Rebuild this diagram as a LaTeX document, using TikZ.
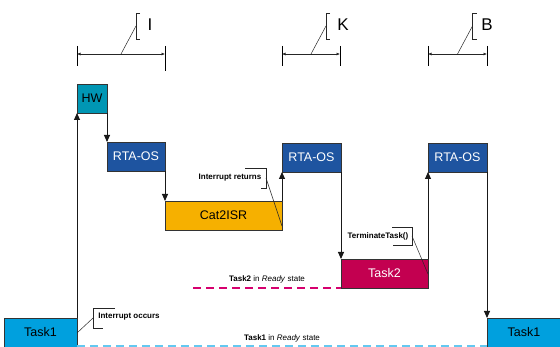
\documentclass[tikz,border=0pt]{standalone}
\usepackage{fontspec}
\setmainfont{Liberation Sans}
\usetikzlibrary{arrows.meta}
\definecolor{taskone}{RGB}{0,160,222}
\definecolor{hwcol}{RGB}{0,150,180}
\definecolor{rtacol}{RGB}{30,84,160}
\definecolor{isrcol}{RGB}{246,176,0}
\definecolor{tasktwo}{RGB}{195,0,80}
\definecolor{cyandash}{RGB}{100,200,240}
\definecolor{magdash}{RGB}{214,0,110}
\begin{document}
\begin{tikzpicture}[x=1pt,y=-1pt,
  box/.style={draw=black!80, line width=0.8pt, outer sep=0pt, inner sep=0pt,
    anchor=north west, minimum height=29pt, font=\fontsize{12.5}{14}\selectfont},
  arr/.style={-{Triangle[length=7pt,width=6pt]}, line width=0.9pt, draw=black!90},
  dimline/.style={{Latex[length=3.5pt,width=3pt]}-{Latex[length=3.5pt,width=3pt]}, line width=0.6pt, draw=black!85},
  tick/.style={line width=1pt, draw=black},
  thin line/.style={line width=0.5pt, draw=black!85},
  biglabel/.style={font=\fontsize{17}{20}\selectfont, inner sep=0pt},
  ctext/.style={font=\bfseries\fontsize{8}{9.5}\selectfont, inner sep=0pt},
  stext/.style={font=\fontsize{8}{9.5}\selectfont, inner sep=0pt},
  dashA/.style={line width=1.3pt, dash pattern=on 8pt off 5pt}
]
\useasboundingbox (0,0) rectangle (560,347);
% boxes
\node[box, fill=taskone, minimum width=73pt] (t1l) at (4,318) {Task1};
\node[box, fill=hwcol, minimum width=30pt] (hw) at (77,84) {HW};
\node[box, fill=rtacol, text=white, minimum width=58pt] (rta1) at (107,142) {RTA-OS};
\node[box, fill=isrcol, minimum width=117pt] (isr) at (165,201) {Cat2ISR};
\node[box, fill=rtacol, text=white, minimum width=59pt] (rta2) at (282,143) {RTA-OS};
\node[box, fill=tasktwo, text=white, minimum width=87pt] (t2) at (341,259) {Task2};
\node[box, fill=rtacol, text=white, minimum width=59pt] (rta3) at (428,143) {RTA-OS};
\node[box, fill=taskone, minimum width=80pt] (t1r) at (487,318) {\hspace*{-6pt}Task1};
% dashed ready lines
\coordinate (m0) at (193,288);
\draw[dashA, magdash] (m0) -- (t2.south west);
\coordinate (c0) at (77,346);
\coordinate (c1) at (487,346);
\draw[dashA, cyandash] (c0) -- (c1);
\node[stext] (r2) at (267,279) {\textbf{Task2} in \textit{Ready} state};
\node[stext] (r1) at (282,338) {\textbf{Task1} in \textit{Ready} state};
% flow connectors
\draw[arr] (t1l.north east) -- (hw.south west);
\draw[arr] (hw.south east) -- (rta1.north west);
\draw[arr] (rta1.south east) -- (isr.north west);
\draw[arr] (isr.north east) -- (rta2.south west);
\draw[arr] (rta2.south east) -- (t2.north west);
\draw[arr] (t2.north east) -- (rta3.south west);
\draw[arr] (rta3.south east) -- (t1r.north west);
% dimension markers
\foreach \a/\b/\r/\l/\lx/\nm in {77/165/71/I/150/dI, 282/340/66/K/343/dK, 428/487/66/B/487/dB}{
  \coordinate (\nm a) at (\a,54);
  \coordinate (\nm b) at (\b,54);
  \draw[tick] (\a,46) -- (\a,66);
  \draw[tick] (\b,46) -- (\b,\r);
  \draw[dimline] (\nm a) -- (\nm b);
  \coordinate (\nm m) at ({(\a+\b)/2},54);
  \coordinate (\nm t) at ({(\a+\b)/2+15},26);
  \draw[thin line] (\nm m) -- (\nm t);
  \draw[thin line] ({(\a+\b)/2+19},13) -- ({(\a+\b)/2+15},13) -- ({(\a+\b)/2+15},39) -- ({(\a+\b)/2+19},39);
  \node[biglabel] (\nm l) at (\lx,25) {\l};
}
% callouts
\node[ctext] (cr) at (230,178) {Interrupt returns};
\draw[thin line] (245,168) -- (266,168) -- (266,188) -- (261,188);
\coordinate (crp) at (266,178);
\coordinate (crq) at (282,226);
\draw[thin line] (crp) -- (crq);
\node[ctext] (ct) at (378,236) {TerminateTask()};
\draw[thin line] (392,227) -- (412,227) -- (412,245) -- (393,245);
\coordinate (ctp) at (412,236);
\coordinate (ctq) at (428,274);
\draw[thin line] (ctp) -- (ctq);
\node[ctext] (co) at (129,317) {Interrupt occurs};
\draw[thin line] (115,308) -- (93,308) -- (93,328) -- (103,328);
\coordinate (cop) at (93,318);
\coordinate (coq) at (77,333);
\draw[thin line] (cop) -- (coq);
\end{tikzpicture}
\end{document}
